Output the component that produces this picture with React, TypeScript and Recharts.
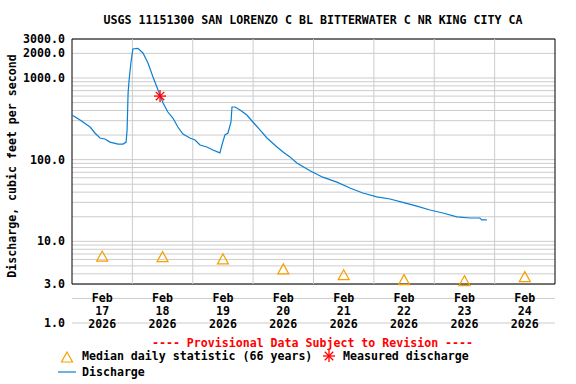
import React from "react";
import {
  ComposedChart,
  Line,
  Scatter,
  XAxis,
  YAxis,
  CartesianGrid,
  ReferenceLine,
  ReferenceArea,
} from "recharts";

// hours after Feb 17 2026 00:00
const dischargeHours = [
  0, 3.2, 7.2, 9.1, 11.1, 13.1, 15.1, 18.3, 20.3, 21.5, 21.9, 22.3, 22.7, 23.4, 24.2,
  26.2, 28.2, 30.2, 32.2, 34.2, 36.2, 38.1, 40.1, 42.1, 44.1, 46.9, 48.9, 50.9, 53.6, 56,
  58.8, 59.6, 60.8, 62, 63.2, 63.6, 64.8, 66.8, 69.5, 71.9, 74.7, 77.5, 81.5, 83.9, 86.6,
  89.4, 94.6, 99.7, 105.3, 110.5, 115.6, 121.2, 126.4, 131.5, 137.1, 142.3, 147.4, 153,
  158.2, 162.1, 162.9, 164.9,
];
const dischargeValues = [
  352, 306, 251, 212, 184, 179, 164, 155, 155, 164, 231, 655, 944, 1524, 2263,
  2300, 2023, 1524, 1028, 713, 494, 383, 323, 251, 206, 184, 174, 151, 143, 131,
  121, 151, 201, 212, 289, 441, 441, 405, 352, 289, 231, 184, 143, 124, 108,
  91, 73, 61, 53, 45, 39, 35, 33, 30, 27, 24.2, 22.2, 19.9,
  19.3, 19.3, 18.3, 18.3,
];

const medianHours = [12, 36, 60, 84, 108, 132, 156, 180];
const medianValues = [6.6, 6.5, 6.1, 4.6, 3.9, 3.4, 3.3, 3.7];

const measuredHours = [35];
const measuredValues = [600];

const tickHours = [12, 36, 60, 84, 108, 132, 156, 180];
const tickMonths = ["Feb", "Feb", "Feb", "Feb", "Feb", "Feb", "Feb", "Feb"];
const tickDays = ["17", "18", "19", "20", "21", "22", "23", "24"];
const tickYears = ["2026", "2026", "2026", "2026", "2026", "2026", "2026", "2026"];
const dayBounds = [24, 48, 72, 96, 120, 144, 168];

const yGrid = [
  1, 2, 3, 4, 5, 6, 7, 8, 9, 10, 20, 30, 40, 50, 60, 70, 80, 90,
  100, 200, 300, 400, 500, 600, 700, 800, 900, 1000, 2000, 3000,
];
const yLabels = [1, 3, 10, 100, 1000, 2000, 3000];

const dischargeData = dischargeHours.map((h, i) => ({ h, q: dischargeValues[i] }));
const medianData = medianHours.map((h, i) => ({ h, q: medianValues[i] }));
const measuredData = measuredHours.map((h, i) => ({ h, q: measuredValues[i] }));

const FONT = "'DejaVu Sans Mono', monospace";
const FS = 11.6;
const BLUE = "#0a7fd2";
const ORANGE = "#f5a000";
const RED = "#ff0000";

function YTick(props: any) {
  const { x, y, payload } = props;
  if (!yLabels.includes(payload.value)) return null;
  return (
    <text x={x} y={y} textAnchor="end" dominantBaseline="central"
      fontFamily={FONT} fontWeight="bold" fontSize={FS} fill="#000">
      {payload.value.toFixed(1)}
    </text>
  );
}

function XTick(props: any) {
  const { x, y, payload } = props;
  const i = tickHours.indexOf(payload.value);
  const lines = [tickMonths[i], tickDays[i], tickYears[i]];
  return (
    <g>
      {lines.map((t, k) => (
        <text key={k} x={x} y={y - 25 + k * 13} textAnchor="middle" dominantBaseline="central"
          fontFamily={FONT} fontWeight="bold" fontSize={FS} fill="#000">
          {t}
        </text>
      ))}
    </g>
  );
}

function Triangle(props: any) {
  const { cx, cy } = props;
  return (
    <path d={`M${cx},${cy - 5} L${cx + 5.5},${cy + 5} L${cx - 5.5},${cy + 5} Z`}
      fill="none" stroke={ORANGE} strokeWidth={1.2} />
  );
}

function Star(props: any) {
  const { cx, cy } = props;
  const r = 6;
  const d = r * 0.707;
  return (
    <g stroke={RED} strokeWidth={1.3}>
      <line x1={cx - r} y1={cy} x2={cx + r} y2={cy} />
      <line x1={cx} y1={cy - r} x2={cx} y2={cy + r} />
      <line x1={cx - d} y1={cy - d} x2={cx + d} y2={cy + d} />
      <line x1={cx - d} y1={cy + d} x2={cx + d} y2={cy - d} />
    </g>
  );
}

const textStyle: React.CSSProperties = {
  position: "absolute",
  fontFamily: FONT,
  fontWeight: "bold",
  fontSize: FS,
  lineHeight: "14px",
  whiteSpace: "nowrap",
  color: "#000",
};

export default function App() {
  return (
    <div style={{ position: "absolute", left: 0, top: 0, width: 576, height: 384, background: "#fff" }}>
      <div style={{ ...textStyle, left: 0, width: 626, top: 13, textAlign: "center" }}>
        USGS 11151300 SAN LORENZO C BL BITTERWATER C NR KING CITY CA
      </div>
      <ComposedChart width={576} height={384} margin={{ top: 39, right: 21, left: 0, bottom: 0 }}>
        <CartesianGrid vertical={false} stroke="#cccccc" strokeWidth={1} />
        <XAxis
          type="number"
          dataKey="h"
          domain={[0, 192]}
          ticks={tickHours}
          tick={<XTick />}
          tickSize={0}
          tickMargin={0}
          tickLine={false}
          axisLine={false}
          height={61}
          allowDataOverflow
        />
        <YAxis
          type="number"
          dataKey="q"
          scale="log"
          domain={[1, 3000]}
          ticks={yGrid}
          tick={<YTick />}
          tickSize={0}
          tickMargin={7}
          tickLine={false}
          axisLine={false}
          width={72}
          interval={0}
          allowDataOverflow
          label={{
            content: () => (
              <text x={12} y={166} transform="rotate(-90 12 166)" textAnchor="middle"
                dominantBaseline="central" fontFamily={FONT} fontWeight="bold" fontSize={FS} fill="#000">
                Discharge, cubic feet per second
              </text>
            ),
          }}
        />
        {dayBounds.map((h) => (
          <ReferenceLine key={h} segment={[{ x: h, y: 3 }, { x: h, y: 3000 }]} stroke="#cccccc" strokeWidth={1} />
        ))}
        <ReferenceArea x1={0} x2={192} y1={3} y2={3000} fill="none" stroke="#000" strokeWidth={1} fillOpacity={0} />
        <Line data={dischargeData} dataKey="q" type="linear" stroke={BLUE} strokeWidth={1.2}
          dot={false} isAnimationActive={false} />
        <Scatter data={medianData} dataKey="q" shape={<Triangle />} isAnimationActive={false} />
        <Scatter data={measuredData} dataKey="q" shape={<Star />} isAnimationActive={false} />
      </ComposedChart>
      <div style={{ ...textStyle, left: 0, width: 625, top: 336, textAlign: "center", color: RED }}>
        ---- Provisional Data Subject to Revision ----
      </div>
      <svg style={{ position: "absolute", left: 60, top: 350 }} width={14} height={14}>
        <Triangle cx={7} cy={7} />
      </svg>
      <div style={{ ...textStyle, left: 82, top: 349 }}>Median daily statistic (66 years)</div>
      <svg style={{ position: "absolute", left: 322, top: 349 }} width={14} height={14}>
        <Star cx={7} cy={7} />
      </svg>
      <div style={{ ...textStyle, left: 343, top: 349 }}>Measured discharge</div>
      <svg style={{ position: "absolute", left: 58, top: 366 }} width={18} height={12}>
        <line x1={0} y1={6} x2={18} y2={6} stroke={BLUE} strokeWidth={1.2} />
      </svg>
      <div style={{ ...textStyle, left: 82, top: 365 }}>Discharge</div>
    </div>
  );
}
